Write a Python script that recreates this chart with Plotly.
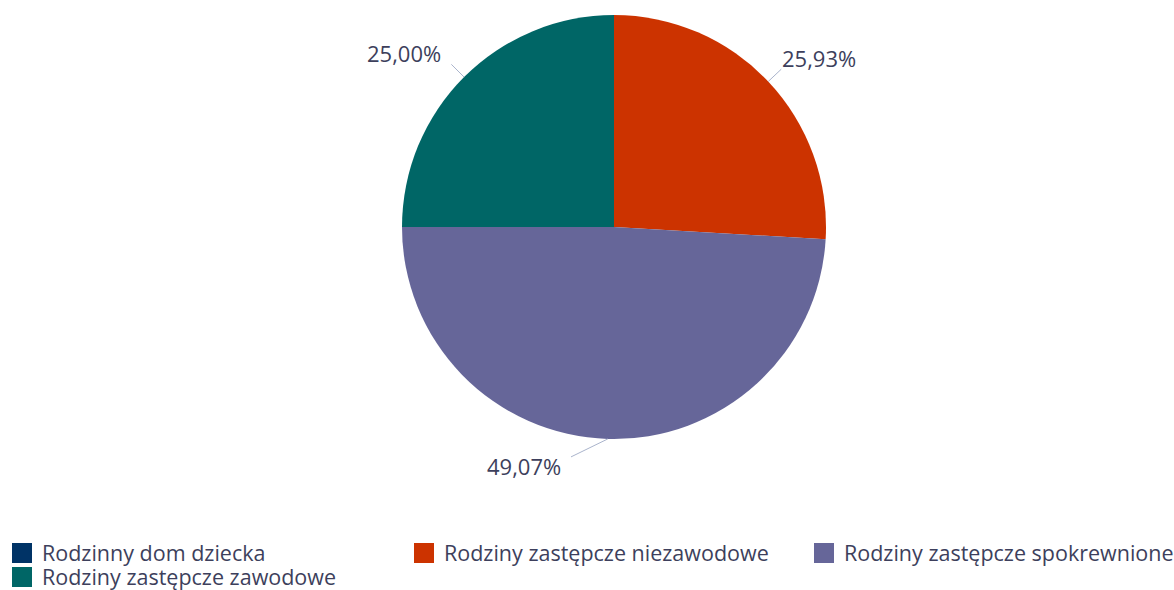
import math
import plotly.graph_objects as go

# liczba rodzin w poszczególnych formach pieczy
categories = ['Rodzinny dom dziecka', 'Rodziny zastępcze niezawodowe',
              'Rodziny zastępcze spokrewnione', 'Rodziny zastępcze zawodowe']
counts = [0, 28, 53, 27]
colors = ['#003366', '#cc3300', '#666699', '#006666']

W, H = 1174, 590
# pie centre / radius in pixels
cx, cy, r = 614, 227, 212
txt_color = '#3d3f5c'
font_family = 'Open Sans'

total = sum(counts)

fig = go.Figure()

fig.add_trace(go.Pie(labels=categories, values=counts, sort=False,
                     direction='clockwise', rotation=0,
                     marker=dict(colors=colors), textinfo='none',
                     hoverinfo='label+percent', showlegend=False,
                     domain=dict(x=[(cx - r) / W, (cx + r) / W],
                                 y=[1 - (cy + r) / H, 1 - (cy - r) / H])))

# percentage labels with leader lines, placed from the slice angles
shapes = []
annotations = []
acc = 0
for v in counts:
    mid = (acc + v / 2) / total * 2 * math.pi
    acc += v
    if v == 0:
        continue
    ux, uy = math.sin(mid), -math.cos(mid)
    left = ux < 0
    px, py = cx + r * ux, cy + r * uy
    ex, ey = cx + (r + 18) * ux, cy + (r + 18) * uy
    if abs(ex - cx) < 40:
        ex = cx - 43 if left else cx + 43
    tx = ex - 8 if left else ex - 1
    ty = ey + 12 * uy - 3
    shapes.append(dict(type='line', xref='paper', yref='paper',
                       x0=px / W, y0=1 - py / H, x1=ex / W, y1=1 - ey / H,
                       line=dict(color='#aab4cc', width=1)))
    label = f'{v / total * 100:.2f}%'.replace('.', ',')
    annotations.append(dict(text=label, xref='paper', yref='paper',
                            x=tx / W, y=1 - ty / H,
                            xanchor='right' if left else 'left', yanchor='middle',
                            showarrow=False,
                            font=dict(size=22, color=txt_color, family=font_family)))

# legend entries (dummy traces so the squares can be larger)
legend_of = ['legend', 'legend', 'legend2', 'legend3']
for cat, col, lg in zip(categories, colors, legend_of):
    fig.add_trace(go.Scatter(x=[None], y=[None], mode='markers', name=cat,
                             marker=dict(symbol='square', size=16, color=col,
                                         line=dict(color=col, width=4)),
                             legend=lg, hoverinfo='skip'))

leg_font = dict(size=21.5, color=txt_color, family=font_family)
leg_x = 2
row1, row2 = 553, 577
clear = 'rgba(0,0,0,0)'
fig.update_layout(
    width=W, height=H,
    margin=dict(l=0, r=0, t=0, b=0, autoexpand=False),
    paper_bgcolor='white', plot_bgcolor='white',
    xaxis=dict(visible=False), yaxis=dict(visible=False),
    shapes=shapes, annotations=annotations,
    legend=dict(orientation='h', x=leg_x / W, xanchor='left',
                y=1 - row1 / H, yanchor='middle', bgcolor=clear,
                entrywidth=357, entrywidthmode='pixels', font=leg_font),
    legend2=dict(orientation='h', x=(leg_x + 802) / W, xanchor='left',
                 y=1 - row1 / H, yanchor='middle', bgcolor=clear, font=leg_font),
    legend3=dict(orientation='h', x=leg_x / W, xanchor='left',
                 y=1 - row2 / H, yanchor='middle', bgcolor=clear, font=leg_font),
    font=dict(family=font_family, color=txt_color),
)

# page body has a default 8px margin; drop it so the figure sits at 0,0
fig.write_html('out.html', config={'displayModeBar': False},
               post_script="document.body.style.margin='0';")
